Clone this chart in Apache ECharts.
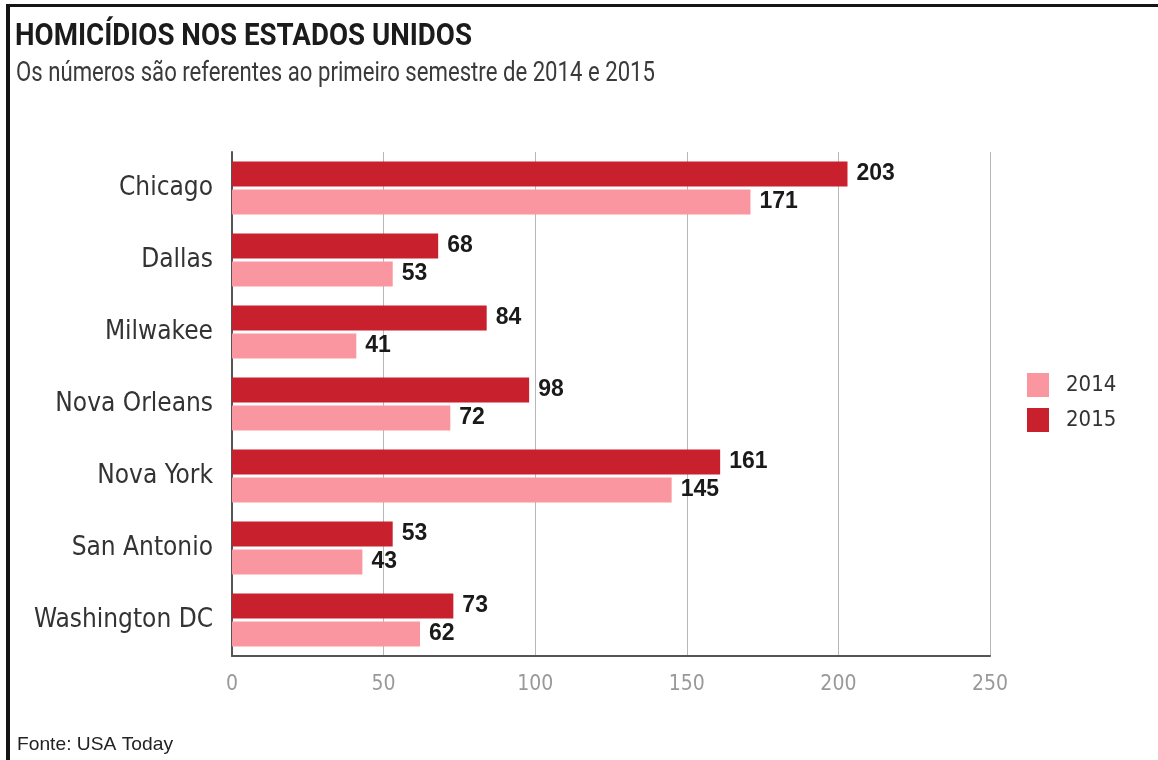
<!DOCTYPE html>
<html>
<head>
<meta charset="utf-8">
<script src="https://cdn.jsdelivr.net/npm/echarts@6/dist/echarts.min.js"></script>
<style>
html,body{margin:0;padding:0;background:#fff;}
#frame{position:absolute;left:6px;top:4px;width:1152px;height:756px;border-top:3px solid #151515;border-left:4px solid #151515;box-sizing:border-box;pointer-events:none;}
#chart{position:absolute;left:0;top:0;width:1158px;height:760px;}
</style>
</head>
<body>
<div id="chart"></div>
<div id="frame"></div>
<script>
const titleText = 'HOMICÍDIOS NOS ESTADOS UNIDOS';
const subtitleText = 'Os números são referentes ao primeiro semestre de 2014 e 2015';
const sourceText = 'Fonte: USA Today';
const cities = ['Chicago', 'Dallas', 'Milwakee', 'Nova Orleans', 'Nova York', 'San Antonio', 'Washington DC'];
const values2014 = [171, 53, 41, 72, 145, 43, 62];
const values2015 = [203, 68, 84, 98, 161, 53, 73];
const seriesNames = ['2014', '2015'];
const xTicks = [0, 50, 100, 150, 200, 250];

const COND = '"DejaVu Sans Condensed", "Liberation Sans Narrow", sans-serif';
const measureCtx = document.createElement('canvas').getContext('2d');
function fitScale(font, text, target) {
  measureCtx.font = font;
  const w = measureCtx.measureText(text).width;
  return w > 0 ? target / w : 1;
}
const titleFont = 'bold 32px Roboto, "Liberation Sans", sans-serif';
const subFont = '27px Roboto, "Liberation Sans", sans-serif';
const srcFont = '19px "Liberation Sans", Arial, sans-serif';

const chart = echarts.init(document.getElementById('chart'));
const labelStyle = {
  show: true, position: 'right', distance: 9,
  fontFamily: '"Liberation Sans", Arial, sans-serif', fontWeight: 'bold', fontSize: 23, color: '#1a1a1a'
};
chart.setOption({
  animation: false,
  backgroundColor: '#fff',
  graphic: [
    { type: 'text', x: 15, y: 37, scaleX: fitScale(titleFont, titleText, 457), scaleY: 1,
      style: { text: titleText, font: titleFont, fill: '#1b1b1b', verticalAlign: 'middle', align: 'left' } },
    { type: 'text', x: 16, y: 74, scaleX: fitScale(subFont, subtitleText, 639), scaleY: 1,
      style: { text: subtitleText, font: subFont, fill: '#3a3a3a', verticalAlign: 'middle', align: 'left' } },
    { type: 'text', x: 17, y: 745, scaleX: fitScale(srcFont, sourceText, 156), scaleY: 1,
      style: { text: sourceText, font: srcFont, fill: '#222', verticalAlign: 'middle', align: 'left' } }
  ],
  legend: {
    data: seriesNames, orient: 'vertical', left: 1027, top: 373,
    itemWidth: 22, itemHeight: 24, itemGap: 11, icon: 'rect', padding: 0,
    textStyle: { fontFamily: COND, fontSize: 22, color: '#333', padding: [0, 0, 0, 12] }
  },
  grid: { left: 232, right: 168, top: 152, bottom: 104, containLabel: false },
  xAxis: {
    type: 'value', min: xTicks[0], max: xTicks[xTicks.length - 1], interval: xTicks[1] - xTicks[0],
    axisLine: { show: true, lineStyle: { color: '#555', width: 2 } },
    axisTick: { show: false },
    splitLine: { show: true, lineStyle: { color: '#b8b8b8', width: 1 } },
    axisLabel: { margin: 18, fontFamily: COND, fontSize: 21, color: '#999' }
  },
  yAxis: {
    type: 'category', data: cities, inverse: true,
    axisLine: { show: true, lineStyle: { color: '#555', width: 2 } },
    axisTick: { show: false },
    axisLabel: { margin: 19, fontFamily: COND, fontSize: 26, color: '#333' }
  },
  series: [
    { name: '2015', type: 'bar', data: values2015, barWidth: 25, barGap: '12%',
      itemStyle: { color: '#c8202c' }, label: labelStyle },
    { name: '2014', type: 'bar', data: values2014, barWidth: 25, barGap: '12%',
      itemStyle: { color: '#f9969f' }, label: labelStyle }
  ]
});
</script>
</body>
</html>
